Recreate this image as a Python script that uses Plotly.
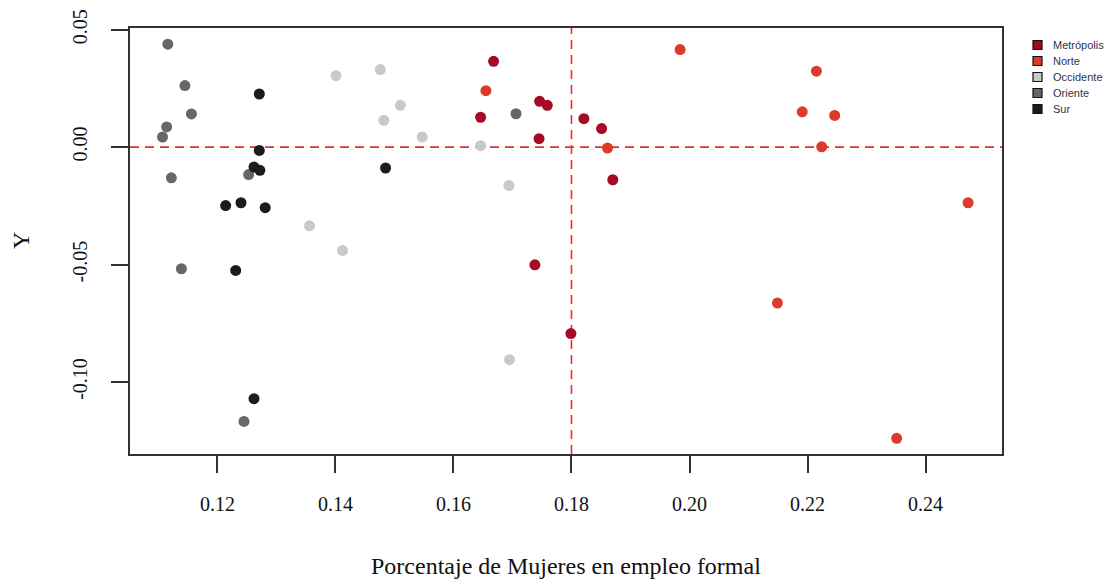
import plotly.graph_objects as go

# Regional series: share of women in formal employment (x) against Y
regions = ["Metrópolis", "Norte", "Occidente", "Oriente", "Sur"]
colors = ["#A50B27", "#DD3A2B", "#C9C9C9", "#676767", "#1C1C1C"]

metropolis_x = [0.1668, 0.1746, 0.1759, 0.1646, 0.1821, 0.1851, 0.1745, 0.1870, 0.1738, 0.1799]
metropolis_y = [0.0365, 0.0195, 0.0178, 0.0127, 0.0121, 0.0079, 0.0036, -0.0139, -0.0501, -0.0794]

norte_x = [0.1655, 0.1861, 0.1984, 0.2215, 0.2191, 0.2246, 0.2224, 0.2149, 0.2472, 0.2351]
norte_y = [0.0240, -0.0004, 0.0415, 0.0323, 0.0150, 0.0135, 0.0001, -0.0664, -0.0237, -0.1240]

occidente_x = [0.1401, 0.1476, 0.1510, 0.1482, 0.1547, 0.1356, 0.1412, 0.1646, 0.1694, 0.1695]
occidente_y = [0.0304, 0.0330, 0.0178, 0.0114, 0.0043, -0.0335, -0.0440, 0.0006, -0.0164, -0.0905]

oriente_x = [0.1116, 0.1145, 0.1156, 0.1114, 0.1107, 0.1122, 0.1139, 0.1253, 0.1245, 0.1706]
oriente_y = [0.0438, 0.0262, 0.0141, 0.0086, 0.0043, -0.0131, -0.0518, -0.0117, -0.1168, 0.0142]

sur_x = [0.1271, 0.1271, 0.1262, 0.1272, 0.1214, 0.1240, 0.1281, 0.1231, 0.1262, 0.1485]
sur_y = [0.0226, -0.0014, -0.0085, -0.0099, -0.0249, -0.0237, -0.0258, -0.0525, -0.1071, -0.0089]

series_x = [metropolis_x, norte_x, occidente_x, oriente_x, sur_x]
series_y = [metropolis_y, norte_y, occidente_y, oriente_y, sur_y]

x_ticks = [0.12, 0.14, 0.16, 0.18, 0.20, 0.22, 0.24]
y_ticks = [0.05, 0.00, -0.05, -0.10]
x_ref = 0.18
y_ref = 0.0

W, H = 1114, 584
M_L, M_R, M_T, M_B = 130, 112, 28, 130
plot_w = W - M_L - M_R
plot_h = H - M_T - M_B


def px_to_paper(px, py):
    return (px - M_L) / plot_w, (H - M_B - py) / plot_h


fig = go.Figure()

for name, col, xs, ys in zip(regions, colors, series_x, series_y):
    fig.add_trace(go.Scatter(
        x=xs, y=ys, mode="markers", name=name, showlegend=False,
        marker=dict(color=col, size=11, line=dict(width=0)),
    ))

# reference lines
dash_line = dict(color="#EE2C2C", width=1.6, dash="9px,6px")
fig.add_shape(type="line", xref="x", yref="y domain", x0=x_ref, x1=x_ref,
              y0=0, y1=1, line=dash_line, layer="below")
fig.add_shape(type="line", xref="x domain", yref="y", x0=0, x1=1,
              y0=y_ref, y1=y_ref, line=dash_line, layer="below")

# legend drawn in the right margin: outlined colour keys with labels
key_left, key_size, text_left = 1033, 9, 1051
row_top, row_step = 45, 16
for i, (name, col) in enumerate(zip(regions, colors)):
    cy = row_top + i * row_step
    x0, y0 = px_to_paper(key_left, cy + key_size / 2)
    x1, y1 = px_to_paper(key_left + key_size, cy - key_size / 2)
    fig.add_shape(type="rect", xref="paper", yref="paper",
                  x0=x0, y0=y0, x1=x1, y1=y1, fillcolor=col,
                  line=dict(color="#111111", width=1.2))
    tx, ty = px_to_paper(text_left, cy)
    fig.add_annotation(text=name, xref="paper", yref="paper", x=tx, y=ty,
                       xanchor="left", yanchor="middle", showarrow=False,
                       font=dict(family="Liberation Sans", size=11,
                                 color="#333344"))

serif = "Liberation Serif"
axis_common = dict(
    showgrid=False, zeroline=False, showline=True, mirror=True,
    linecolor="#333333", linewidth=1.5,
    ticks="outside", ticklen=17, tickwidth=1.5, tickcolor="#333333",
    tickfont=dict(family=serif, size=20, color="#111111"),
)

fig.update_xaxes(
    range=[0.10519, 0.25295], tickvals=x_ticks,
    ticktext=[f"{v:.2f}" for v in x_ticks], ticklabelstandoff=14,
    **axis_common,
)
fig.update_yaxes(
    range=[-0.13066, 0.0507], tickvals=y_ticks,
    ticktext=[f"{v:.2f}" for v in y_ticks], tickangle=-90,
    ticklabelstandoff=16, **axis_common,
)

fig.add_annotation(text="Porcentaje de Mujeres en empleo formal", xref="paper",
                   yref="paper", x=0.5, y=-0.262, xanchor="center",
                   yanchor="middle", showarrow=False,
                   font=dict(family=serif, size=24, color="#111111"))
fig.add_annotation(text="Y", xref="paper", yref="paper", x=-0.125, y=0.5,
                   xanchor="center", yanchor="middle", textangle=-90,
                   showarrow=False,
                   font=dict(family=serif, size=24, color="#111111"))

fig.update_layout(
    width=W, height=H, showlegend=False,
    margin=dict(l=M_L, r=M_R, t=M_T, b=M_B, autoexpand=False),
    paper_bgcolor="white", plot_bgcolor="white",
)

fig.write_html("out.html")
